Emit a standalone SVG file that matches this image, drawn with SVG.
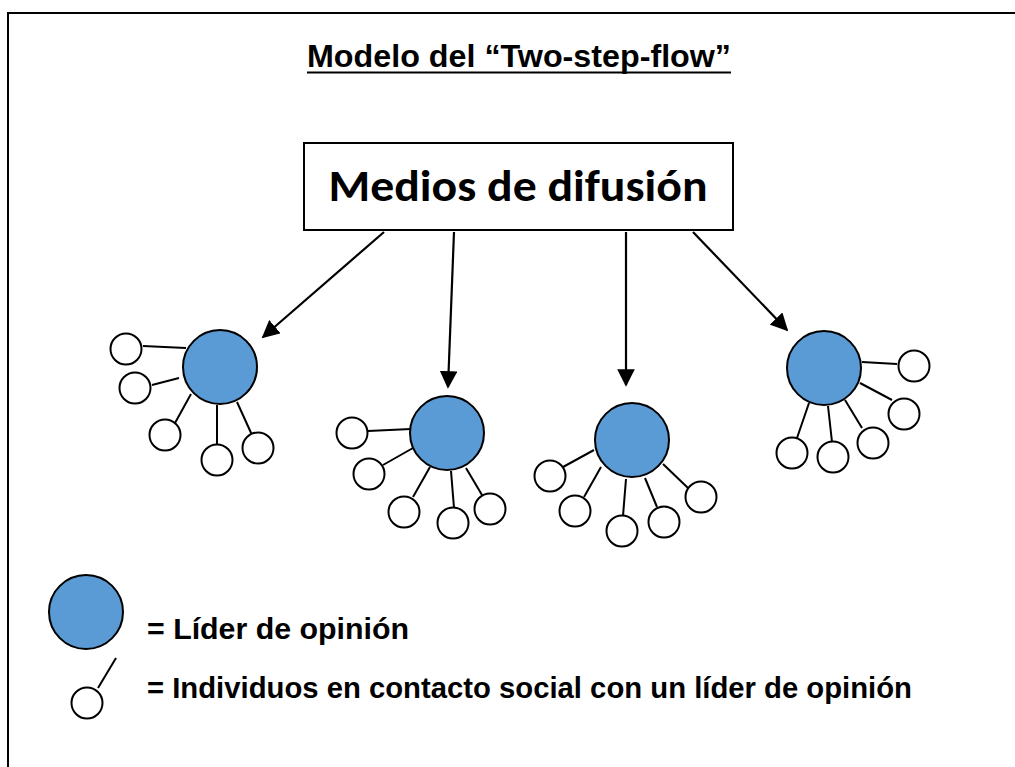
<svg xmlns="http://www.w3.org/2000/svg" width="1015" height="767" viewBox="0 0 1015 767">
<defs>
<style>
.lead{fill:#5B9BD5;stroke:#000;stroke-width:2}
.sat{fill:#fff;stroke:#000;stroke-width:2}
.ln{stroke:#000;stroke-width:2;fill:none}
.arr{stroke:#000;stroke-width:2.2;fill:none;marker-end:url(#ah)}
.t{font-family:"Liberation Sans",Arial,sans-serif;font-weight:bold;fill:#000}
</style>
<marker id="ah" viewBox="0 0 10 10" refX="9" refY="5" markerWidth="8" markerHeight="8" markerUnits="strokeWidth" orient="auto">
<path d="M0,0 L10,5 L0,10 z" fill="#000"/>
</marker>
</defs>
<rect width="1015" height="767" fill="#fff"/>
<g id="frame"><path d="M8,767 L8,13 L1015,13" class="ln" stroke-width="2.5"/></g>
<g id="title">
<text class="t" x="307" y="67" font-size="32" textLength="424" lengthAdjust="spacingAndGlyphs">Modelo del “Two-step-flow”</text>
<line x1="307" y1="72.5" x2="731" y2="72.5" class="ln"/>
</g>
<g id="medios">
<rect x="304" y="143" width="429" height="87" fill="#fff" stroke="#000" stroke-width="2"/>
<text x="518" y="201" font-family="Carlito,Lato,'Open Sans',sans-serif" font-weight="bold" font-size="44" text-anchor="middle" textLength="379" lengthAdjust="spacingAndGlyphs">Medios de difusión</text>
</g>
<g id="connectors">
<line x1="384" y1="232" x2="263" y2="337" class="arr"/>
<line x1="454" y1="232" x2="448" y2="387" class="arr"/>
<line x1="626" y1="232" x2="626" y2="385" class="arr"/>
<line x1="693" y1="232" x2="787" y2="330" class="arr"/>
</g>
<g id="grupo1">
<line x1="143" y1="346" x2="186" y2="348" class="ln"/>
<line x1="152" y1="385" x2="179" y2="378" class="ln"/>
<line x1="175" y1="423" x2="191" y2="394" class="ln"/>
<line x1="217" y1="445" x2="217" y2="405" class="ln"/>
<line x1="252" y1="435" x2="237" y2="402" class="ln"/>
<circle cx="220" cy="367" r="37" class="lead"/>
<circle cx="126" cy="349" r="15.5" class="sat"/>
<circle cx="135" cy="388" r="15.5" class="sat"/>
<circle cx="165" cy="435" r="15.5" class="sat"/>
<circle cx="217" cy="460" r="15.5" class="sat"/>
<circle cx="258" cy="448" r="15.5" class="sat"/>
</g>
<g id="grupo2">
<line x1="368" y1="431" x2="411" y2="429" class="ln"/>
<line x1="383" y1="465" x2="413" y2="448" class="ln"/>
<line x1="413" y1="497" x2="430" y2="467" class="ln"/>
<line x1="454" y1="508" x2="451" y2="471" class="ln"/>
<line x1="482" y1="495" x2="466" y2="468" class="ln"/>
<circle cx="447" cy="433" r="37" class="lead"/>
<circle cx="352" cy="433" r="15.5" class="sat"/>
<circle cx="369" cy="474" r="15.5" class="sat"/>
<circle cx="404" cy="512" r="15.5" class="sat"/>
<circle cx="453" cy="523" r="15.5" class="sat"/>
<circle cx="490" cy="509" r="15.5" class="sat"/>
</g>
<g id="grupo3">
<line x1="563" y1="467" x2="594" y2="450" class="ln"/>
<line x1="584" y1="497" x2="601" y2="467" class="ln"/>
<line x1="623" y1="516" x2="626" y2="479" class="ln"/>
<line x1="657" y1="507" x2="645" y2="478" class="ln"/>
<line x1="688" y1="488" x2="663" y2="464" class="ln"/>
<circle cx="632" cy="440" r="37" class="lead"/>
<circle cx="550" cy="476" r="15.5" class="sat"/>
<circle cx="575" cy="511" r="15.5" class="sat"/>
<circle cx="622" cy="531" r="15.5" class="sat"/>
<circle cx="664" cy="522" r="15.5" class="sat"/>
<circle cx="701" cy="497" r="15.5" class="sat"/>
</g>
<g id="grupo4">
<line x1="862" y1="362" x2="897" y2="364" class="ln"/>
<line x1="860" y1="383" x2="892" y2="400" class="ln"/>
<line x1="845" y1="400" x2="862" y2="428" class="ln"/>
<line x1="828" y1="406" x2="832" y2="442" class="ln"/>
<line x1="809" y1="403" x2="797" y2="438" class="ln"/>
<circle cx="824" cy="368" r="37" class="lead"/>
<circle cx="914" cy="366" r="15.5" class="sat"/>
<circle cx="904" cy="414" r="15.5" class="sat"/>
<circle cx="873" cy="443" r="15.5" class="sat"/>
<circle cx="833" cy="457" r="15.5" class="sat"/>
<circle cx="792" cy="453" r="15.5" class="sat"/>
</g>
<g id="leyenda-lider">
<circle cx="86" cy="612" r="37" class="lead"/>
<text class="t" x="147" y="639" font-size="29" textLength="262" lengthAdjust="spacingAndGlyphs">= Líder de opinión</text>
</g>
<g id="leyenda-individuo">
<line x1="98" y1="688" x2="116" y2="658" class="ln"/>
<circle cx="87" cy="703" r="15.5" class="sat"/>
<text class="t" x="147" y="698" font-size="29" textLength="765" lengthAdjust="spacingAndGlyphs">= Individuos en contacto social con un líder de opinión</text>
</g>
</svg>
